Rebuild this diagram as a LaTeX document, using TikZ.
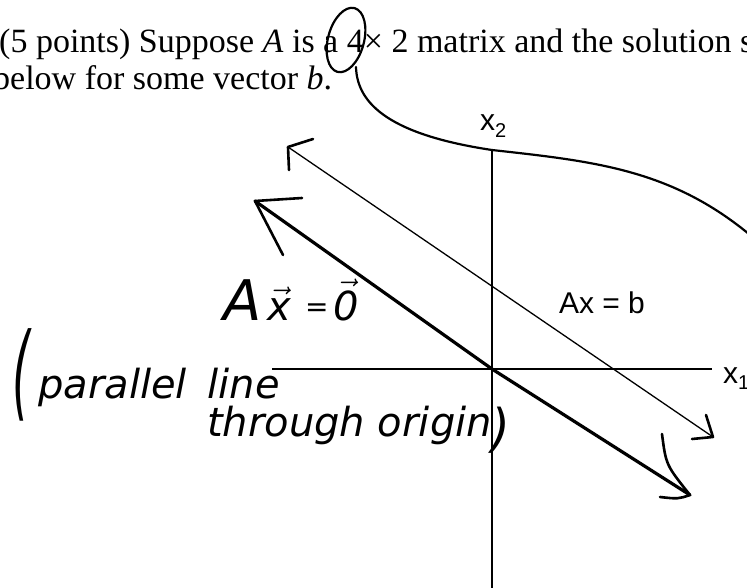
\RequirePackage{fix-cm}
\documentclass[tikz,border=0pt]{standalone}
\usepackage{graphicx}
\usepackage{fontspec}
\setmainfont{Liberation Serif}
\newfontfamily\labelfont{Liberation Sans}
\newfontfamily\handfont{DejaVu Sans}
\usetikzlibrary{calc}

\newcommand{\subnum}[1]{\raisebox{-0.22em}{\fontsize{20}{20}\selectfont #1}}

\begin{document}
\begin{tikzpicture}[x=1pt, y=-1pt,
    axis/.style={line width=1.4pt},
    solline/.style={line width=1.3pt},
    nullline/.style={line width=3.2pt, line cap=round, line join=round},
    pen/.style={line width=2.6pt, line cap=round, line join=round},
    printed/.style={inner sep=0pt, anchor=base west, font=\fontsize{34}{38}\selectfont},
    sanslabel/.style={inner sep=0pt, anchor=base west, font=\labelfont\fontsize{30}{30}\selectfont},
    hand/.style={inner sep=0pt, anchor=base west, font=\handfont\itshape\fontsize{40}{40}\selectfont},
]
    \fill[white] (0,0) rectangle (747,588);
    \useasboundingbox (0,0) rectangle (747,588);

    % printed question
    \node[printed] (line1) at (-1,53) {(5 points) Suppose \textit{A} is a 4× 2 matrix and the solution s};
    \node[printed] (line2) at (-7,90) {below for some vector \textit{b}.};

    % axes
    \coordinate (O) at (492,369);
    \coordinate (x1left) at (272,369);
    \coordinate (x1right) at (712,369);
    \coordinate (x2top) at (492,150);
    \coordinate (x2bot) at (492,590);
    \draw[axis] (x1left) -- (x1right);
    \draw[axis] (x2top) -- (x2bot);
    \node[sanslabel] (x1lab) at (723,383) {x\subnum{1}};
    \node[sanslabel] (x2lab) at (480,131) {x\subnum{2}};

    % solution line Ax = b
    \coordinate (bTL) at (288,147);
    \coordinate (bBR) at (713,437);
    \draw[solline] (bTL) -- (bBR);
    \node[sanslabel, anchor=base] (eqb) at (602,313) {Ax = b};

    % line through the origin
    \coordinate (hTL) at (255,201);
    \coordinate (hBR) at (690,495);
    \draw[nullline] (hTL) -- (O) -- (hBR);

    % hand-drawn arrow heads
    \draw[pen] ($(bTL)+(25,-8)$) -- (bTL) -- ($(bTL)+(1,23)$);
    \draw[pen] ($(bBR)+(-7,-22)$) -- (bBR) -- ($(bBR)+(-21,2)$);
    \draw[pen] ($(hTL)+(47,-3)$) -- (hTL) -- ($(hTL)+(28,54)$);
    \draw[pen] ($(hBR)+(-28,-61)$) .. controls ($(hBR)+(-24,-30)$) .. (hBR)
        .. controls ($(hBR)+(-12,4)$) .. ($(hBR)+(-30,2)$);

    % circled 4 and the stroke from it
    \draw[pen, line width=2.2pt, rotate around={-15:(346,40)}] (346,40) ellipse [x radius=18, y radius=33];
    \coordinate (loopEnd) at (356,67);
    \coordinate (curveEnd) at (765,248);
    \draw[pen, line width=2.2pt] (loopEnd) .. controls (357,105) and (392,135) .. (x2top)
        .. controls (600,162) and (680,170) .. (curveEnd);

    % handwriting
    \node[hand] (homog) at (223,320) {{\fontsize{56}{56}\selectfont A}\hspace{6pt}$\vec{\mbox{x}}$\hspace{14pt}\raisebox{4pt}{\fontsize{28}{28}\selectfont =}\hspace{5pt}$\vec{\mbox{0}}$};
    \node[hand] (note1) at (12,398) {\raisebox{-9pt}{\scalebox{1.15}[2.6]{(}}\hspace{8pt}parallel\hspace{8pt} line};
    \node[hand] (note2) at (207,436) {through origin\raisebox{-10pt}{\scalebox{1.2}[1.3]{)}}};
\end{tikzpicture}
\end{document}
